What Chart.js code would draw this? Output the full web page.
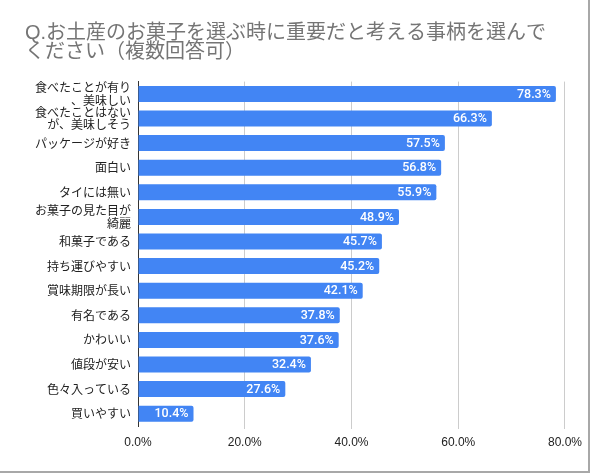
<!DOCTYPE html>
<html>
<head>
<meta charset="utf-8">
<script src="https://cdn.jsdelivr.net/npm/chart.js@4/dist/chart.umd.min.js"></script>
<style>
  html, body { margin: 0; padding: 0; background: #fff; }
  #wrap { width: 588px; height: 471px; border-right: 2px solid #a8a8a8; border-bottom: 2px solid #a8a8a8; background: #fff; }
  canvas { display: block; }
</style>
</head>
<body>
<div id="wrap"><canvas id="c" width="588" height="471"></canvas></div>
<script>
const titleLines = ['Q.お土産のお菓子を選ぶ時に重要だと考える事柄を選んで', 'ください（複数回答可）'];
const categories = [
  ['食べたことが有り', '、美味しい'],
  ['食べたことはない', 'が、美味しそう'],
  'パッケージが好き',
  '面白い',
  'タイには無い',
  ['お菓子の見た目が', '綺麗'],
  '和菓子である',
  '持ち運びやすい',
  '賞味期限が長い',
  '有名である',
  'かわいい',
  '値段が安い',
  '色々入っている',
  '買いやすい'
];
const values = [78.3, 66.3, 57.5, 56.8, 55.9, 48.9, 45.7, 45.2, 42.1, 37.8, 37.6, 32.4, 27.6, 10.4];
const xTicks = [0, 20, 40, 60, 80];

const valueLabels = {
  id: 'valueLabels',
  afterDatasetsDraw(chart) {
    const ctx = chart.ctx;
    const meta = chart.getDatasetMeta(0);
    ctx.save();
    ctx.fillStyle = '#ffffff';
    ctx.font = '500 12.5px Roboto, "Liberation Sans", sans-serif';
    ctx.textAlign = 'right';
    ctx.textBaseline = 'middle';
    meta.data.forEach((bar, i) => {
      ctx.fillText(values[i].toFixed(1) + '%', bar.x - 5, bar.y + 0.5);
    });
    ctx.restore();
  }
};

new Chart(document.getElementById('c'), {
  type: 'bar',
  data: {
    labels: categories,
    datasets: [{
      data: values,
      backgroundColor: '#4285f4',
      borderWidth: 0,
      borderRadius: 2,
      barPercentage: 0.65,
      categoryPercentage: 1.0
    }]
  },
  options: {
    indexAxis: 'y',
    responsive: false,
    animation: false,
    layout: { padding: { left: 25, right: 23, top: 0, bottom: 0 } },
    plugins: {
      legend: { display: false },
      tooltip: { enabled: false },
      title: {
        display: true,
        text: titleLines,
        align: 'start',
        color: '#757575',
        font: { family: '"Liberation Sans", "Noto Sans CJK JP", sans-serif', size: 20, weight: 'normal', lineHeight: 0.97 },
        padding: { top: 23.3, bottom: 19.5 }
      }
    },
    scales: {
      x: {
        min: 0,
        max: 80,
        afterBuildTicks(scale) { scale.ticks = xTicks.map(v => ({ value: v })); },
        afterFit(scale) { scale.height = 45; },
        grid: {
          color: (ctx) => (ctx.tick && ctx.tick.value === 0) ? 'rgba(0,0,0,0)' : '#cccccc',
          lineWidth: 1,
          drawTicks: true,
          tickLength: 3
        },
        border: { display: false },
        ticks: {
          color: '#222222',
          font: { family: '"Liberation Sans", sans-serif', size: 12 },
          padding: 6,
          maxRotation: 0,
          callback: (v) => Number(v).toFixed(1) + '%'
        }
      },
      y: {
        afterFit(scale) { scale.width = 113; },
        grid: { display: false, drawTicks: false },
        border: { display: true, color: '#333333', width: 1 },
        ticks: {
          color: '#222222',
          font: { family: '"Noto Sans CJK JP", sans-serif', size: 12, lineHeight: 1.05 },
          padding: 7,
          autoSkip: false
        }
      }
    }
  },
  plugins: [valueLabels]
});
</script>
</body>
</html>
